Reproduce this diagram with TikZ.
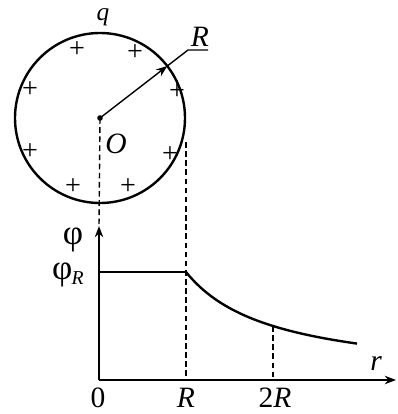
\documentclass[tikz,border=0pt]{standalone}
\usepackage{fontspec}
\setmainfont{Liberation Serif}
\usetikzlibrary{arrows.meta}
\tikzset{
  thick line/.style={line width=1.7pt},
  dash line/.style={line width=1pt, dash pattern=on 4pt off 2.5pt},
  lbl/.style={inner sep=0pt, font=\fontsize{21}{23}\selectfont},
  greek/.style={inner sep=0pt, font=\fontsize{25}{27}\selectfont},
  plus/.style={inner sep=0pt, font=\fontsize{20}{22}\selectfont},
  arr/.style={-{Stealth[length=8pt,width=6pt]}}
}
\begin{document}
\begin{tikzpicture}[x=0.25mm,y=-0.25mm]
\useasboundingbox (0,0) rectangle (398,414);
% sphere
\coordinate (O) at (100,118);
\draw[thick line] (O) circle (85);
\fill (O) circle (2.8);
\coordinate (A) at (167.3,66.0);
\coordinate (B) at (188,50);
\coordinate (Bu) at (208,50);
\draw[line width=1pt, arr] (O) -- (A);
\draw[line width=1pt] (A) -- (B) -- (Bu);
\node[lbl, anchor=base] (Rl) at (200,46) {\itshape R};
\node[inner sep=0pt, font=\fontsize{18}{20}\selectfont, anchor=base] (q) at (103,20) {\itshape q};
\node[lbl] (Ol) at (116,144) {\itshape O};
% plus signs
\foreach \p/\n in {{(77,50)}/p1,{(135,53)}/p2,{(30,90)}/p3,{(177,92)}/p4,{(30,152)}/p5,{(170,155)}/p6,{(73,187)}/p7,{(128,187)}/p8}
  \node[plus] (\n) at \p {+};
% graph
\coordinate (Z) at (99,380);
\coordinate (Ytip) at (99,226);
\coordinate (Xtip) at (396,380);
\coordinate (PR) at (99,272);
\coordinate (CR) at (186,272);
\coordinate (AR) at (186,380);
\coordinate (C2R) at (273,326);
\coordinate (A2R) at (273,380);
\coordinate (Ctop) at (186,142);
\draw[thick line, arr] (Z) -- (Ytip);
\draw[thick line, arr] (Z) -- (Xtip);
\draw[dash line] (O) -- (Ytip);
\draw[dash line] (Ctop) -- (AR);
\draw[dash line] (C2R) -- (A2R);
\draw[thick line] (PR) -- (CR);
\draw[thick line] plot[domain=186:357, samples=50] (\x, {380-108*87/(\x-99)});
\node[greek] (phi) at (73,240) {φ};
\node[greek, anchor=east] (phiR) at (84,275) {φ\kern-0.5pt\raisebox{-0.3ex}{\fontsize{14}{15}\selectfont\itshape R}};
\node[lbl] (l0) at (98,398) {0};
\node[lbl] (lR) at (186,398) {\itshape R};
\node[lbl] (l2R) at (275,398) {2\itshape R};
\node[lbl] (lr) at (376,364) {\itshape r};
\end{tikzpicture}
\end{document}
